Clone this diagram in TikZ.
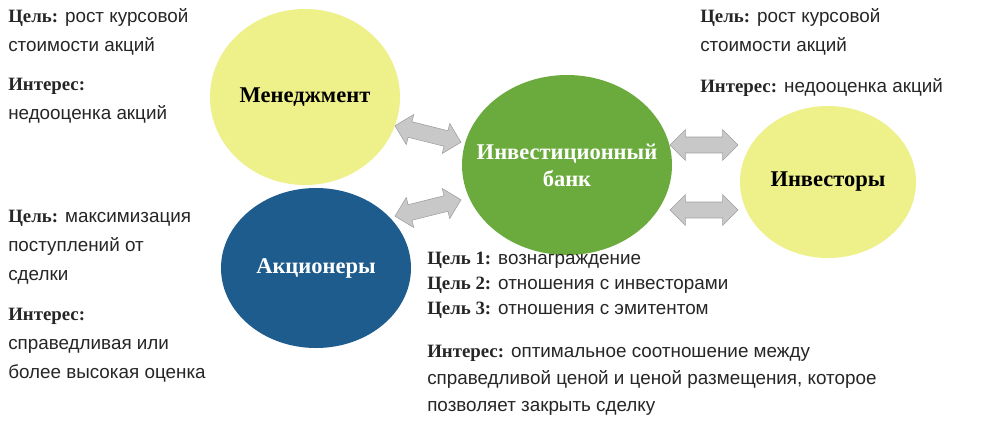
\documentclass[tikz,border=0pt]{standalone}
\usepackage{fontspec}
\setmainfont{Liberation Sans}
\newfontfamily\serifb{Liberation Serif}
\usetikzlibrary{shapes.arrows}
\definecolor{yel}{HTML}{EEF08A}
\definecolor{grn}{HTML}{6BAA3C}
\definecolor{blu}{HTML}{1F5C8E}
\definecolor{arr}{HTML}{C8C8C8}
\tikzset{
  ctext/.style={font=\serifb\bfseries\fontsize{16}{19}\selectfont, align=center},
  txt/.style={anchor=north west, inner sep=0pt, align=left, font=\fontsize{13.4}{20.5}\selectfont, text=black!85},
  darr/.style={double arrow, fill=arr, draw=arr!80!black, minimum width=22pt, double arrow head extend=3pt, minimum height=1.7cm, inner sep=3pt}
}
\newcommand{\lb}[1]{{\serifb\bfseries #1}}
\begin{document}
\begin{tikzpicture}[x=0.025cm,y=-0.025cm]
\useasboundingbox (0,0) rectangle (988,424);
\fill[white] (0,0) rectangle (988,424);
\fill[yel] (305,97) ellipse [x radius=95, y radius=88];
\fill[grn] (567,165) ellipse [x radius=105, y radius=90];
\fill[yel] (828,182) ellipse [x radius=88, y radius=76];
\fill[blu] (316,268) ellipse [x radius=95, y radius=80];
\node[ctext] (m) at (305,97) {Менеджмент};
\node[ctext,text=white] (b) at (567,165) {Инвестиционный\\банк};
\node[ctext] (i) at (828,182) {Инвесторы};
\node[ctext,text=white] (a) at (316,268) {Акционеры};
\node[darr, rotate=-14] (d1) at (428,134) {};
\node[darr, rotate=14] (d2) at (428,208) {};
\node[darr] (d3) at (704,145) {};
\node[darr] (d4) at (704,210) {};
\node[txt] (t1) at (8,8) {\lb{Цель:} рост курсовой\\стоимости акций};
\node[txt] (t2) at (8,78) {\lb{Интерес:}\\недооценка акций};
\node[txt] (t3) at (8,210) {\lb{Цель:} максимизация\\поступлений от\\сделки};
\node[txt] (t4) at (8,308) {\lb{Интерес:}\\справедливая или\\более высокая оценка};
\node[txt] (t5) at (700,8) {\lb{Цель:} рост курсовой\\стоимости акций};
\node[txt] (t6) at (700,78) {\lb{Интерес:} недооценка акций};
\node[txt,font=\fontsize{13.4}{17.8}\selectfont] (t7) at (427,252) {\lb{Цель 1:} вознаграждение\\\lb{Цель 2:} отношения с инвесторами\\\lb{Цель 3:} отношения с эмитентом};
\node[txt,font=\fontsize{13.4}{19}\selectfont] (t8) at (427,345) {\lb{Интерес:} оптимальное соотношение между\\справедливой ценой и ценой размещения, которое\\позволяет закрыть сделку};
\end{tikzpicture}
\end{document}
